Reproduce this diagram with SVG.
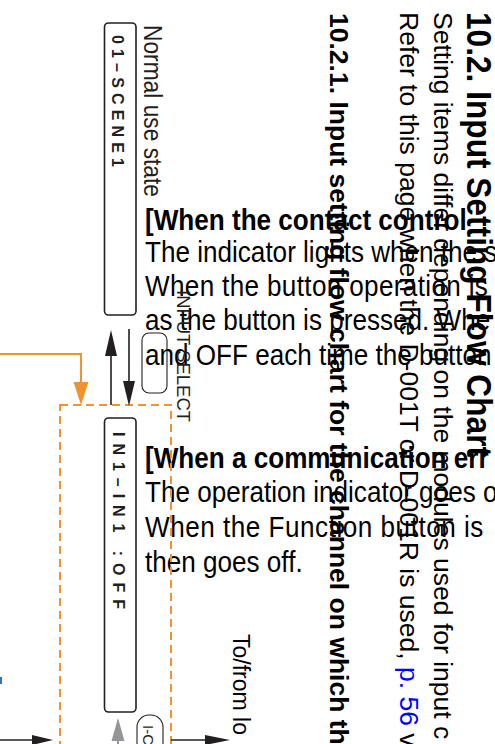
<svg xmlns="http://www.w3.org/2000/svg" width="495" height="744" viewBox="0 0 495 744">
<defs>
<style>
.sans{font-family:"Liberation Sans",Arial,sans-serif;}
.body{font-family:"Liberation Sans",Arial,sans-serif;font-size:26.5px;fill:#000;}
.hbody{font-family:"Liberation Sans",Arial,sans-serif;font-size:29px;fill:#000;}
.bold{font-weight:bold;}
.lcd{font-family:"Liberation Sans",Arial,sans-serif;font-weight:bold;fill:#231f20;}
.box{fill:#fff;stroke:#231f20;stroke-width:1.6;}
.btn{fill:none;stroke:#231f20;stroke-width:1.1;}
.blk{stroke:#231f20;stroke-width:1.6;fill:none;}
.org{stroke:#f0932f;stroke-width:2;fill:none;}
.dash{stroke:#f0932f;stroke-width:2;fill:none;stroke-dasharray:8 5;}
</style>
</defs>
<rect width="495" height="744" fill="#fff"/>

<g id="heading">
<text class="sans bold" font-size="35" transform="translate(467,12) rotate(90)" textLength="445" lengthAdjust="spacingAndGlyphs">10.2. Input Setting Flow Chart</text>
</g>
<g id="intro">
<text class="body" transform="translate(434,12) rotate(90)">Setting items differ depending on the modules used for input c</text>
<text class="body" transform="translate(400,12) rotate(90)">Refer to this page when the D-001T or D-001R is used, <tspan fill="#0000ff">p. 56</tspan> v</text>
</g>
<g id="subheading">
<text class="body bold" transform="translate(330,13) rotate(90)">10.2.1. Input setting flow chart for the channel on which th</text>
</g>

<g id="contact-block" transform="translate(145,0) scale(0.9,1)">
<text class="hbody bold" x="0" y="230">[When the contact control</text>
<text class="hbody" x="0" y="262">The indicator lights when the s</text>
<text class="hbody" x="0" y="296" textLength="381" lengthAdjust="spacing">When the button operation is</text>
<text class="hbody" x="0" y="330">as the button is pressed. Whe</text>
<text class="hbody" x="0" y="365">and OFF each time the button</text>
</g>
<g id="comm-block" transform="translate(145,0) scale(0.9,1)">
<text class="hbody bold" x="0" y="468">[When a communication err</text>
<text class="hbody" x="0" y="502">The operation indicator goes o</text>
<text class="hbody" x="0" y="537" textLength="376" lengthAdjust="spacing">When the Function button is</text>
<text class="hbody" x="0" y="572">then goes off.</text>
</g>

<g id="connectors">
<rect class="dash" x="60" y="405" width="111" height="360"/>
<path class="org" d="M0,354 H81 V384"/>
<polygon points="81,405 73.5,382 88.5,382" fill="#f0932f"/>
<line class="blk" x1="111" y1="405" x2="111" y2="352"/>
<polygon points="111,330 105,356 117,356" fill="#231f20"/>
<line class="blk" x1="129" y1="329" x2="129" y2="384"/>
<polygon points="129,406 123,381 135,381" fill="#231f20"/>
<line class="blk" x1="0" y1="740" x2="36" y2="740"/>
<polygon points="53,740 32,735 32,745" fill="#231f20"/>
<line class="blk" x1="171" y1="740" x2="208" y2="740"/>
<polygon points="230,740 205,735 205,745" fill="#231f20"/>
<line x1="118" y1="738" x2="118" y2="744" stroke="#939598" stroke-width="2"/>
<polygon points="118,718 111.5,741 124.5,741" fill="#939598"/>
<line x1="1" y1="677" x2="1" y2="684" stroke="#2b73c6" stroke-width="2"/>
</g>

<g id="lcd-scene">
<rect class="box" x="104.5" y="23" width="31.5" height="292" rx="4"/>
<text class="lcd" font-size="16" transform="translate(112,35) rotate(90)" textLength="132" lengthAdjust="spacing">01–SCENE1</text>
</g>
<g id="normal-label">
<text class="sans" font-size="25" fill="#231f20" transform="translate(144,25) rotate(90)" textLength="172" lengthAdjust="spacingAndGlyphs">Normal use state</text>
</g>
<g id="input-select-button">
<rect class="btn" x="142" y="333" width="25" height="60" rx="7"/>
<text class="sans" font-size="18" fill="#231f20" transform="translate(177,290) rotate(90)" textLength="132" lengthAdjust="spacingAndGlyphs">INPUT SELECT</text>
</g>
<g id="lcd-input">
<rect class="box" x="104.5" y="418" width="31.5" height="294" rx="4"/>
<text class="lcd" font-size="16" transform="translate(113,432) rotate(90)" textLength="177" lengthAdjust="spacing">IN1–IN1 :OFF</text>
</g>
<g id="ich-button">
<rect class="btn" x="137" y="715" width="26" height="50" rx="12"/>
<text class="sans" font-size="15" fill="#231f20" transform="translate(143,725) rotate(90)">I-C</text>
</g>
<g id="lower-label">
<text class="sans" font-size="23" fill="#000" transform="translate(233,634) rotate(90)">To/from lo</text>
</g>
</svg>
